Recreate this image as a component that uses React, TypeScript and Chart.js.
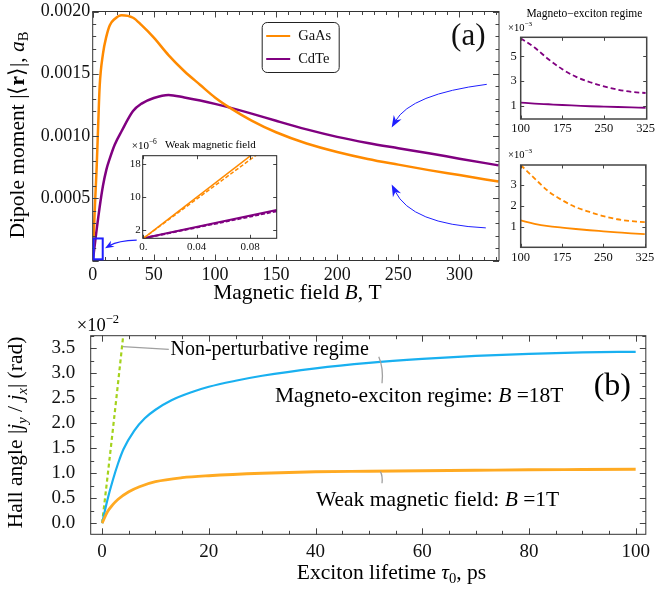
import { useEffect, useRef } from "react";
import { Chart, registerables } from "chart.js";
Chart.register(...registerables);

const W = 658;
const H = 591;
const SERIF = "'Liberation Serif', 'Times New Roman', Times, serif";

// ---------- Panel (a): dipole moment vs magnetic field ----------
const fieldB = [0, 1, 2, 3.25, 4.6, 5.7, 8.4, 11.2, 14, 18, 23.7, 33, 40, 50, 62, 75, 88, 100, 113, 130, 150, 175, 200, 225, 250, 275, 300, 332];
const dipoleGaAs = [0, 0.00024, 0.00048, 0.00075, 0.00112, 0.0014, 0.00166, 0.0018, 0.00189, 0.00194, 0.00197, 0.00195, 0.00189, 0.00179, 0.00165, 0.00152, 0.00141, 0.00131, 0.001222, 0.001124, 0.00103, 0.00094, 0.000872, 0.000816, 0.00077, 0.000726, 0.000686, 0.000634];
const dipoleCdTe = [0, 0.00007, 0.00015, 0.00025, 0.00035, 0.00043, 0.0006, 0.00073, 0.00082, 0.00093, 0.00104, 0.0012, 0.00126, 0.001305, 0.00133, 0.00131, 0.001285, 0.001258, 0.001226, 0.00118, 0.001122, 0.001053, 0.000993, 0.000944, 0.000902, 0.000861, 0.000818, 0.000764];
const seriesNames = ["GaAs", "CdTe"];
const aXTicks = [0, 50, 100, 150, 200, 250, 300];
const aXLabels = ["0", "50", "100", "150", "200", "250", "300"];
const aYTicks = [0.0005, 0.001, 0.0015, 0.002];
const aYLabels = ["0.0005", "0.0010", "0.0015", "0.0020"];

// weak-field inset (values x10^-6)
const weakB = [0, 0.1];
const weakGaAs = [0, 25];
const weakGaAsApprox = [0, 23.9];
const weakCdTe = [0, 6.9];
const weakCdTeApprox = [0, 6.6];
const weakXTicks = [0, 0.04, 0.08];
const weakXLabels = ["0.", "0.04", "0.08"];
const weakYTicks = [2, 10, 18];
const weakYLabels = ["2", "10", "18"];

// magneto-exciton insets (values x10^-3)
const magB = [100, 125, 150, 175, 200, 225, 250, 275, 300, 325];
const magCdTe = [1.26, 1.18, 1.12, 1.06, 1.01, 0.96, 0.93, 0.9, 0.87, 0.84];
const magCdTeApprox = [6.45, 5.7, 4.76, 3.95, 3.33, 2.9, 2.57, 2.3, 2.12, 2.03];
const magGaAs = [1.29, 1.13, 1.02, 0.95, 0.88, 0.82, 0.77, 0.72, 0.67, 0.63];
const magGaAsApprox = [3.96, 3.32, 2.7, 2.27, 1.93, 1.7, 1.5, 1.35, 1.26, 1.21];
const magXTicks = [100, 175, 250, 325];
const magXLabels = ["100", "175", "250", "325"];
const magTopYTicks = [1, 3, 5];
const magTopYLabels = ["1", "3", "5"];
const magBotYTicks = [1, 2, 3];
const magBotYLabels = ["1", "2", "3"];

// ---------- Panel (b): Hall angle vs exciton lifetime (x10^-2 rad) ----------
const lifetimeStrong = [0, 1, 2, 3, 4, 6, 8, 10, 13, 17, 20, 25, 30, 40, 50, 60, 70, 80, 90, 100];
const hallStrong = [0, 0.47, 0.86, 1.2, 1.48, 1.85, 2.1, 2.27, 2.46, 2.63, 2.73, 2.85, 2.95, 3.1, 3.21, 3.29, 3.35, 3.39, 3.42, 3.43];
const lifetimeWeak = [0, 1, 2, 3, 5, 7, 10, 15, 20, 30, 40, 50, 60, 70, 80, 90, 100];
const hallWeak = [0, 0.23, 0.37, 0.48, 0.63, 0.73, 0.83, 0.91, 0.95, 1.0, 1.03, 1.04, 1.05, 1.06, 1.07, 1.075, 1.08];
const nonPertLifetime = [0, 1, 2, 3, 3.95];
const hallNonPert = [0, 0.92, 1.86, 2.82, 3.75];
const bXTicks = [0, 20, 40, 60, 80, 100];
const bXLabels = ["0", "20", "40", "60", "80", "100"];
const bYTicks = [0, 0.5, 1, 1.5, 2, 2.5, 3, 3.5];
const bYLabels = ["0.0", "0.5", "1.0", "1.5", "2.0", "2.5", "3.0", "3.5"];

const C_GAAS = "#ff8a00";
const C_CDTE = "#800080";
const C_BLUE = "#19b0f0";
const C_GOLD = "#ffaa22";
const C_GREEN = "#a4d21c";
const C_ARROW = "#1f1fff";

type Seg = { t: string; st?: string; sub?: boolean; sup?: boolean };
type Area = { l: number; t: number; r: number; b: number };

function drawRich(ctx: CanvasRenderingContext2D, segs: Seg[], x: number, y: number, size: number, align: string, rot = 0) {
  ctx.save();
  ctx.translate(x, y);
  if (rot) ctx.rotate(rot);
  ctx.fillStyle = "#000";
  ctx.textBaseline = "middle";
  ctx.textAlign = "left";
  const fonts = segs.map((s) => `${s.st || ""} ${s.sub || s.sup ? size * 0.68 : size}px ${SERIF}`.trim());
  let total = 0;
  const ws = segs.map((s, i) => {
    ctx.font = fonts[i];
    const w = ctx.measureText(s.t).width;
    total += w;
    return w;
  });
  let cx = align === "center" ? -total / 2 : align === "right" ? -total : 0;
  segs.forEach((s, i) => {
    ctx.font = fonts[i];
    const dy = s.sub ? size * 0.28 : s.sup ? -size * 0.36 : 0;
    ctx.fillText(s.t, cx, dy);
    cx += ws[i];
  });
  ctx.restore();
}

function drawFrame(chart: any, o: any) {
  const { ctx, chartArea } = chart;
  const { left, right, top, bottom } = chartArea;
  const xs = chart.scales.x;
  const ys = chart.scales.y;
  ctx.save();
  ctx.strokeStyle = o.tickColor || "#444";
  ctx.lineWidth = 1;
  ctx.beginPath();
  const vx = (v: number, len: number) => {
    const p = Math.round(xs.getPixelForValue(v)) + 0.5;
    ctx.moveTo(p, bottom);
    ctx.lineTo(p, bottom - len);
    ctx.moveTo(p, top);
    ctx.lineTo(p, top + len);
  };
  const vy = (v: number, len: number) => {
    const p = Math.round(ys.getPixelForValue(v)) + 0.5;
    ctx.moveTo(left, p);
    ctx.lineTo(left + len, p);
    ctx.moveTo(right, p);
    ctx.lineTo(right - len, p);
  };
  if (o.xMinor) {
    for (let k = Math.ceil(xs.min / o.xMinor - 1e-9); k * o.xMinor <= xs.max + 1e-12; k++) vx(k * o.xMinor, o.minor);
  }
  if (o.yMinor) {
    for (let k = Math.ceil(ys.min / o.yMinor - 1e-9); k * o.yMinor <= ys.max + 1e-12; k++) vy(k * o.yMinor, o.minor);
  }
  o.xMajor.forEach((v: number) => vx(v, o.major));
  o.yMajor.forEach((v: number) => vy(v, o.major));
  ctx.stroke();
  ctx.strokeStyle = o.frameColor || "#333";
  ctx.lineWidth = o.lw || 1;
  ctx.strokeRect(left, top, right - left, bottom - top);
  ctx.restore();
}

function arrow(ctx: CanvasRenderingContext2D, p0: number[], c: number[], p2: number[], lw: number, hl: number, hw: number) {
  const ang = Math.atan2(p2[1] - c[1], p2[0] - c[0]);
  const ca = Math.cos(ang);
  const sa = Math.sin(ang);
  ctx.save();
  ctx.strokeStyle = C_ARROW;
  ctx.fillStyle = C_ARROW;
  ctx.lineWidth = lw;
  ctx.beginPath();
  ctx.moveTo(p0[0], p0[1]);
  ctx.quadraticCurveTo(c[0], c[1], p2[0] - ca * hl * 0.6, p2[1] - sa * hl * 0.6);
  ctx.stroke();
  const bx = p2[0] - ca * hl;
  const by = p2[1] - sa * hl;
  const nx = -sa * hw / 2;
  const ny = ca * hw / 2;
  ctx.beginPath();
  ctx.moveTo(p2[0], p2[1]);
  ctx.lineTo(bx + nx, by + ny);
  ctx.lineTo(p2[0] - ca * hl * 0.7, p2[1] - sa * hl * 0.7);
  ctx.lineTo(bx - nx, by - ny);
  ctx.closePath();
  ctx.fill();
  ctx.restore();
}

function lineDs(xs: number[], ys: number[], color: string, width: number, dash: number[] = [], label = "") {
  return {
    label,
    data: xs.map((x, i) => ({ x, y: ys[i] })),
    borderColor: color,
    backgroundColor: color,
    borderWidth: width,
    borderDash: dash,
    pointRadius: 0,
    fill: false,
    tension: 0.4,
    cubicInterpolationMode: "monotone",
  };
}

function mkScale(min: number, max: number, ticks: number[], labels: string[], size: number, pad: number) {
  return {
    type: "linear",
    min,
    max,
    afterBuildTicks: (s: any) => {
      s.ticks = ticks.map((v) => ({ value: v }));
    },
    ticks: {
      callback: (_v: any, i: number) => labels[i],
      font: { family: SERIF, size, lineHeight: 1 },
      color: "#111",
      padding: pad,
      autoSkip: false,
      maxRotation: 0,
      minRotation: 0,
    },
    grid: { display: false, drawTicks: false, tickLength: 0 },
    border: { display: false },
  };
}

function mkChart(canvas: HTMLCanvasElement, area: Area, xH: number, yW: number, xScale: any, yScale: any, datasets: any[], plugins: any[]) {
  return new Chart(canvas, {
    type: "line",
    data: { datasets },
    options: {
      animation: false,
      responsive: false,
      maintainAspectRatio: false,
      devicePixelRatio: 1,
      events: [],
      layout: {
        autoPadding: false,
        padding: { left: area.l - yW, top: area.t, right: W - area.r, bottom: H - area.b - xH },
      },
      plugins: { legend: { display: false }, tooltip: { enabled: false }, title: { display: false } },
      scales: {
        x: { ...xScale, afterFit: (s: any) => { s.height = xH; } },
        y: { ...yScale, afterFit: (s: any) => { s.width = yW; } },
      },
    } as any,
    plugins,
  } as any);
}

// annotation anchors (data coordinates)
const arrowUpper = [[322.4, 0.001415], [260.3, 0.001337], [244.6, 0.001068]];
const arrowLower = [[321.6, 0.000262], [260.7, 0.00029], [244.6, 0.000611]];
const arrowSmall = [[36, 0.000164], [20.7, 0.00016], [10.1, 0.0000974]];
const zoomBox = [0, 8.2, 0.0000096, 0.000177];

const aXTitle: Seg[] = [{ t: "Magnetic field " }, { t: "B", st: "italic" }, { t: ", T" }];
const aYTitle: Seg[] = [{ t: "Dipole moment |⟨" }, { t: "r", st: "bold" }, { t: "⟩|, " }, { t: "a", st: "italic" }, { t: "B", sub: true }];
const bXTitle: Seg[] = [{ t: "Exciton lifetime " }, { t: "τ", st: "italic" }, { t: "0", sub: true }, { t: ", ps" }];
const bYTitle: Seg[] = [{ t: "Hall angle |" }, { t: "j", st: "italic" }, { t: "y", st: "italic", sub: true }, { t: " / " }, { t: "j", st: "italic" }, { t: "x", st: "italic", sub: true }, { t: "| (rad)" }];
const magnetoLabel: Seg[] = [{ t: "Magneto-exciton regime: " }, { t: "B", st: "italic" }, { t: " =18T" }];
const weakLabel: Seg[] = [{ t: "Weak magnetic field: " }, { t: "B", st: "italic" }, { t: " =1T" }];

const aArea: Area = { l: 92.7, t: 10, r: 499, b: 260.5 };
const weakArea: Area = { l: 142.7, t: 155.7, r: 276.7, b: 238.3 };
const rtArea: Area = { l: 520.7, t: 37.3, r: 654, b: 119 };
const rbArea: Area = { l: 520.7, t: 165, r: 654, b: 247.3 };
const bArea: Area = { l: 90.7, t: 335.7, r: 654, b: 534.3 };

function makeA(cv: HTMLCanvasElement) {
  const decor = {
    id: "decorA",
    afterDatasetsDraw(chart: any) {
      drawFrame(chart, { xMajor: [0, ...aXTicks], yMajor: [0, ...aYTicks], xMinor: 10, yMinor: 0.0001, major: 6, minor: 3.5 });
    },
    afterDraw(chart: any) {
      const { ctx, chartArea: ca } = chart;
      const xs = chart.scales.x;
      const ys = chart.scales.y;
      const P = (p: number[]) => [xs.getPixelForValue(p[0]), ys.getPixelForValue(p[1])];
      // legend
      ctx.save();
      const lx = ca.left + 169.5;
      const ly = ca.top + 11;
      const lw = 77;
      const lh = 50;
      ctx.fillStyle = "#fff";
      ctx.strokeStyle = "#222";
      ctx.lineWidth = 1;
      ctx.beginPath();
      (ctx as any).roundRect(lx, ly, lw, lh, 5);
      ctx.fill();
      ctx.stroke();
      const cols = [C_GAAS, C_CDTE];
      seriesNames.forEach((n, i) => {
        const yy = ly + 13.5 + i * 23;
        ctx.strokeStyle = cols[i];
        ctx.lineWidth = 2;
        ctx.beginPath();
        ctx.moveTo(lx + 4, yy);
        ctx.lineTo(lx + 28, yy);
        ctx.stroke();
        ctx.fillStyle = "#111";
        ctx.font = `14.5px ${SERIF}`;
        ctx.textBaseline = "middle";
        ctx.textAlign = "left";
        ctx.fillText(n, lx + 36, yy);
      });
      ctx.restore();
      // panel label
      ctx.save();
      ctx.fillStyle = "#111";
      ctx.font = `31px ${SERIF}`;
      ctx.textAlign = "center";
      ctx.textBaseline = "middle";
      ctx.fillText("(a)", xs.getPixelForValue(307.3), ys.getPixelForValue(0.001794));
      ctx.restore();
      // arrows and zoom box
      arrow(ctx, P(arrowUpper[0]), P(arrowUpper[1]), P(arrowUpper[2]), 1, 12, 9);
      arrow(ctx, P(arrowLower[0]), P(arrowLower[1]), P(arrowLower[2]), 1, 12, 9);
      arrow(ctx, P(arrowSmall[0]), P(arrowSmall[1]), P(arrowSmall[2]), 1.2, 9, 7);
      ctx.save();
      ctx.strokeStyle = C_ARROW;
      ctx.lineWidth = 2;
      const bx0 = xs.getPixelForValue(zoomBox[0]);
      const bx1 = xs.getPixelForValue(zoomBox[1]);
      const by0 = ys.getPixelForValue(zoomBox[2]);
      const by1 = ys.getPixelForValue(zoomBox[3]);
      ctx.strokeRect(bx0 + 1, by1, bx1 - bx0 - 1, by0 - by1);
      ctx.restore();
      // titles
      drawRich(ctx, aXTitle, (ca.left + ca.right) / 2 + 1.5, 293.3, 21.5, "center");
      drawRich(ctx, aYTitle, 18.3, (ca.top + ca.bottom) / 2 - 1, 21.5, "center", -Math.PI / 2);
    },
  };
  return mkChart(
    cv, aArea, 40, 80,
    mkScale(0, 332.4, aXTicks, aXLabels, 18, 6),
    mkScale(0, 0.002, aYTicks, aYLabels, 18, 2.5),
    [
      lineDs(fieldB, dipoleGaAs, C_GAAS, 2.5, [], seriesNames[0]),
      lineDs(fieldB, dipoleCdTe, C_CDTE, 2.5, [], seriesNames[1]),
    ],
    [decor]
  );
}

function makeWeak(cv: HTMLCanvasElement) {
  const decor = {
    id: "decorWeak",
    beforeDraw(chart: any) {
      const { ctx, chartArea: ca } = chart;
      ctx.save();
      ctx.fillStyle = "#fff";
      ctx.fillRect(ca.left, ca.top, ca.right - ca.left, ca.bottom - ca.top);
      ctx.restore();
    },
    afterDatasetsDraw(chart: any) {
      drawFrame(chart, { xMajor: weakXTicks, yMajor: weakYTicks, major: 3.5, minor: 2, frameColor: "#222" });
    },
    afterDraw(chart: any) {
      const { ctx, chartArea: ca } = chart;
      drawRich(ctx, [{ t: "×10" }, { t: "−6", sup: true }], ca.left - 11, ca.top - 10, 11, "left");
      drawRich(ctx, [{ t: "Weak magnetic field" }], ca.left + 22.3, ca.top - 10.5, 11, "left");
    },
  };
  return mkChart(
    cv, weakArea, 30, 30,
    mkScale(-0.0005, 0.1, weakXTicks, weakXLabels, 11, 3.5),
    mkScale(0, 20.1, weakYTicks, weakYLabels, 11, 2),
    [
      lineDs(weakB, weakGaAs, C_GAAS, 1.5),
      lineDs(weakB, weakGaAsApprox, C_GAAS, 1.5, [4, 2]),
      lineDs(weakB, weakCdTe, C_CDTE, 2),
      lineDs(weakB, weakCdTeApprox, C_CDTE, 2, [4, 2]),
    ],
    [decor]
  );
}

function makeMag(cv: HTMLCanvasElement, top: boolean) {
  const area = top ? rtArea : rbArea;
  const decor = {
    id: "decorMag",
    beforeDraw(chart: any) {
      const { ctx, chartArea: ca } = chart;
      ctx.save();
      ctx.fillStyle = "#fff";
      ctx.fillRect(ca.left, ca.top, ca.right - ca.left, ca.bottom - ca.top);
      ctx.restore();
    },
    afterDatasetsDraw(chart: any) {
      drawFrame(chart, {
        xMajor: magXTicks,
        yMajor: top ? magTopYTicks : magBotYTicks,
        major: 3.5,
        minor: 2,
        frameColor: "#444",
        lw: 1.5,
      });
    },
    afterDraw(chart: any) {
      const { ctx, chartArea: ca } = chart;
      if (top) drawRich(ctx, [{ t: "Magneto−exciton regime" }], (ca.left + ca.right) / 2 + 0.7, ca.top - 23.3, 11.5, "center");
      drawRich(ctx, [{ t: "×10" }, { t: "−3", sup: true }], ca.left - 12.7, ca.top - (top ? 9.3 : 10), 10.5, "left");
    },
  };
  const ds = top
    ? [lineDs(magB, magCdTe, C_CDTE, 1.8), lineDs(magB, magCdTeApprox, C_CDTE, 1.8, [5, 3])]
    : [lineDs(magB, magGaAs, C_GAAS, 1.8), lineDs(magB, magGaAsApprox, C_GAAS, 1.8, [5, 3])];
  return mkChart(
    cv, area, 30, 30,
    mkScale(100, 327, magXTicks, magXLabels, 12.5, top ? 3 : 3.8),
    top ? mkScale(-0.07, 6.53, magTopYTicks, magTopYLabels, 12.5, 4) : mkScale(0, 3.96, magBotYTicks, magBotYLabels, 12.5, 4),
    ds,
    [decor]
  );
}

function makeB(cv: HTMLCanvasElement) {
  const decor = {
    id: "decorB",
    afterDatasetsDraw(chart: any) {
      drawFrame(chart, { xMajor: bXTicks, yMajor: bYTicks, xMinor: 5, yMinor: 0.25, major: 6, minor: 3.5 });
    },
    afterDraw(chart: any) {
      const { ctx, chartArea: ca } = chart;
      const xs = chart.scales.x;
      const ys = chart.scales.y;
      const px = (v: number) => xs.getPixelForValue(v);
      const py = (v: number) => ys.getPixelForValue(v);
      drawRich(ctx, [{ t: "×10" }, { t: "−2", sup: true }], ca.left - 14, ca.top - 9.5, 18.5, "left");
      // leader lines
      ctx.save();
      ctx.strokeStyle = "#a0a0a0";
      ctx.lineWidth = 1.3;
      ctx.beginPath();
      ctx.moveTo(px(3.88), py(3.532));
      ctx.lineTo(px(12.5), py(3.48));
      ctx.moveTo(px(51.85), py(3.332));
      ctx.quadraticCurveTo(px(52.77), py(3.106), px(52.46), py(2.8));
      ctx.moveTo(px(52.16), py(1.032));
      ctx.quadraticCurveTo(px(52.6), py(0.946), px(52.46), py(0.8));
      ctx.stroke();
      ctx.restore();
      drawRich(ctx, [{ t: "Non-perturbative regime" }], px(12.82), py(3.466), 20, "left");
      drawRich(ctx, magnetoLabel, px(59.42), py(2.532), 21.5, "center");
      drawRich(ctx, weakLabel, px(62.87), py(0.466), 21.5, "center");
      drawRich(ctx, [{ t: "(b)" }], px(95.62), py(2.732), 32, "center");
      drawRich(ctx, bXTitle, 391.5, 573.3, 21.5, "center");
      drawRich(ctx, bYTitle, 16.7, 432.5, 21.5, "center", -Math.PI / 2);
    },
  };
  return mkChart(
    cv, bArea, 50, 80,
    mkScale(-2.14, 101.9, bXTicks, bXLabels, 19, 8),
    mkScale(-0.222, 3.752, bYTicks, bYLabels, 19, 15.5),
    [
      lineDs(lifetimeWeak, hallWeak, C_GOLD, 2.8),
      lineDs(lifetimeStrong, hallStrong, C_BLUE, 2.2),
      lineDs(nonPertLifetime, hallNonPert, C_GREEN, 2.2, [4, 3]),
    ],
    [decor]
  );
}

export default function App() {
  const r0 = useRef<HTMLCanvasElement>(null);
  const r1 = useRef<HTMLCanvasElement>(null);
  const r2 = useRef<HTMLCanvasElement>(null);
  const r3 = useRef<HTMLCanvasElement>(null);
  const r4 = useRef<HTMLCanvasElement>(null);
  const refs = [r0, r1, r2, r3, r4];
  useEffect(() => {
    const charts = [
      makeA(r0.current!),
      makeWeak(r1.current!),
      makeMag(r2.current!, true),
      makeMag(r3.current!, false),
      makeB(r4.current!),
    ];
    return () => charts.forEach((c) => c.destroy());
  }, []);
  return (
    <div style={{ position: "absolute", left: 0, top: 0, width: W, height: H, background: "#fff", overflow: "hidden" }}>
      {refs.map((r, i) => (
        <canvas
          key={i}
          ref={r}
          width={W}
          height={H}
          style={{ position: "absolute", left: 0, top: 0, width: W, height: H }}
        />
      ))}
    </div>
  );
}
